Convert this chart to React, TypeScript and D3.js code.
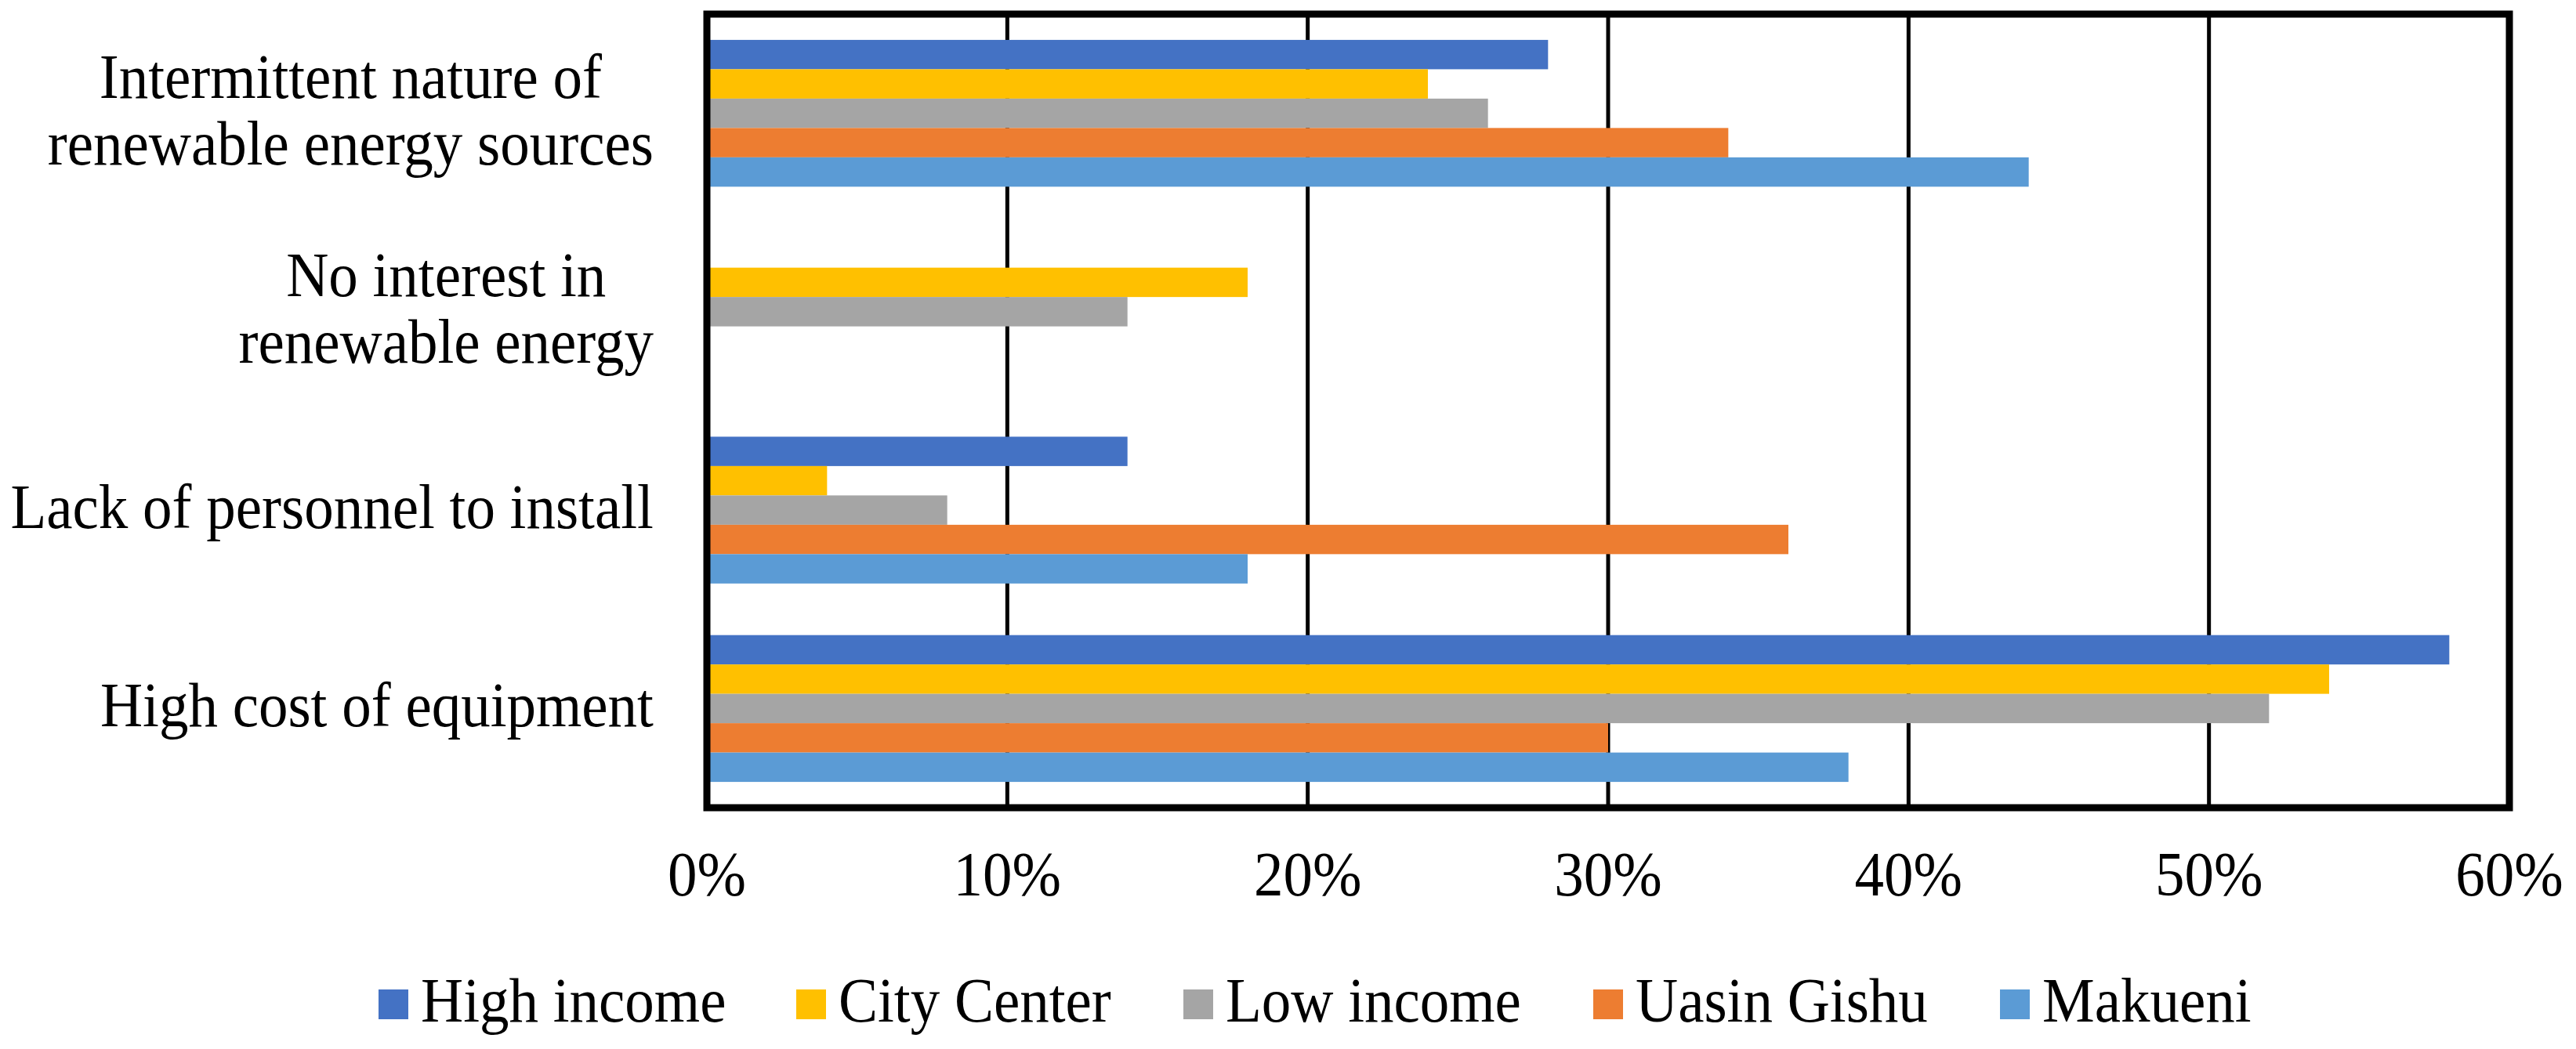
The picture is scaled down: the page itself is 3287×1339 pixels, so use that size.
import { useEffect, useRef } from 'react';
import * as d3 from 'd3';

const categories = [
    ['Intermittent nature of', 'renewable energy sources'],
    ['No interest in', 'renewable energy'],
    ['Lack of personnel to install'],
    ['High cost of equipment'],
];

const seriesNames = ['High income', 'City Center', 'Low income', 'Uasin Gishu', 'Makueni'];
const seriesColors = ['#4472C4', '#FFC000', '#A5A5A5', '#ED7D31', '#5B9BD5'];

// percentages, one value per category (same order as categories)
const highIncome = [28, 0, 14, 58];
const cityCenter = [24, 18, 4, 54];
const lowIncome = [26, 14, 8, 52];
const uasinGishu = [34, 0, 36, 30];
const makueni = [44, 0, 18, 38];

const xTicks = [0, 10, 20, 30, 40, 50, 60];

const W = 3287;
const H = 1339;
const FONT = '"Liberation Serif", "Times New Roman", serif';
const STRETCH = 1.06; // the original glyphs are a little taller than plain Times

export default function App() {
    const svgRef = useRef<SVGSVGElement>(null);

    useEffect(() => {
        if (!svgRef.current) return;
        const root = d3.select(svgRef.current);
        root.selectAll('*').remove();

        const values = [highIncome, cityCenter, lowIncome, uasinGishu, makueni];
        const left = 902, right = 3202, top = 18, bottom = 1031;

        const x = d3.scaleLinear().domain([0, 60]).range([left, right]);
        const catIdx = categories.map((_, i) => String(i));
        const y = d3.scaleBand().domain(catIdx).range([top, bottom]).paddingInner(0.26).paddingOuter(0.13);
        const ySub = d3.scaleBand().domain(seriesNames).range([0, y.bandwidth()]);

        // Gridlines
        root.append('g')
            .selectAll('line')
            .data(xTicks.slice(1, -1))
            .enter()
            .append('line')
            .attr('x1', d => x(d))
            .attr('x2', d => x(d))
            .attr('y1', top)
            .attr('y2', bottom)
            .attr('stroke', '#000')
            .attr('stroke-width', 5);

        // Bars
        const groups = root.append('g')
            .selectAll('g')
            .data(catIdx)
            .enter()
            .append('g')
            .attr('transform', d => `translate(0,${y(d)})`);

        groups.selectAll('rect')
            .data(d => seriesNames.map((name, s) => ({ name, s, v: values[s][+d] })))
            .enter()
            .append('rect')
            .attr('x', x(0))
            .attr('y', d => ySub(d.name) as number)
            .attr('width', d => x(d.v) - x(0))
            .attr('height', ySub.bandwidth())
            .attr('fill', d => seriesColors[d.s]);

        // Frame
        root.append('rect')
            .attr('x', left)
            .attr('y', top)
            .attr('width', right - left)
            .attr('height', bottom - top)
            .attr('fill', 'none')
            .attr('stroke', '#000')
            .attr('stroke-width', 9);

        // X tick labels
        root.append('g')
            .selectAll('text')
            .data(xTicks)
            .enter()
            .append('text')
            .attr('transform', d => `translate(${x(d)},1143) scale(1,${STRETCH})`)
            .attr('text-anchor', 'middle')
            .style('font-family', FONT)
            .style('font-size', '75px')
            .text(d => `${d}%`);

        // Category labels, each block centred and right-aligned to the axis
        const labelRight = 834;
        categories.forEach((lines, i) => {
            const cy = (y(String(i)) as number) + y.bandwidth() / 2;
            const texts = root.append('g')
                .selectAll('text')
                .data(lines)
                .enter()
                .append('text')
                .attr('text-anchor', 'middle')
                .style('font-family', FONT)
                .style('font-size', '75px')
                .text(d => d);
            let maxW = 0;
            texts.each(function () {
                maxW = Math.max(maxW, (this as SVGTextElement).getComputedTextLength());
            });
            texts.attr('transform', (_, j) =>
                `translate(${labelRight - maxW / 2},${cy + 23 + (j - (lines.length - 1) / 2) * 85}) scale(1,${STRETCH})`);
        });

        // Legend
        const legendX = [483, 1016, 1510, 2033, 2552];
        const legend = root.append('g')
            .selectAll('g')
            .data(seriesNames)
            .enter()
            .append('g')
            .attr('transform', (_, i) => `translate(${legendX[i]},0)`);

        legend.append('rect')
            .attr('x', 0)
            .attr('y', 1263)
            .attr('width', 38)
            .attr('height', 38)
            .attr('fill', (_, i) => seriesColors[i]);

        legend.append('text')
            .attr('transform', `translate(54,1304) scale(1,${STRETCH})`)
            .style('font-family', FONT)
            .style('font-size', '75px')
            .text(d => d);
    }, []);

    return (
        <div style={{ position: 'absolute', left: 0, top: 0, width: W, height: H, background: '#fff' }}>
            <svg ref={svgRef} width={W} height={H} />
        </div>
    );
}
